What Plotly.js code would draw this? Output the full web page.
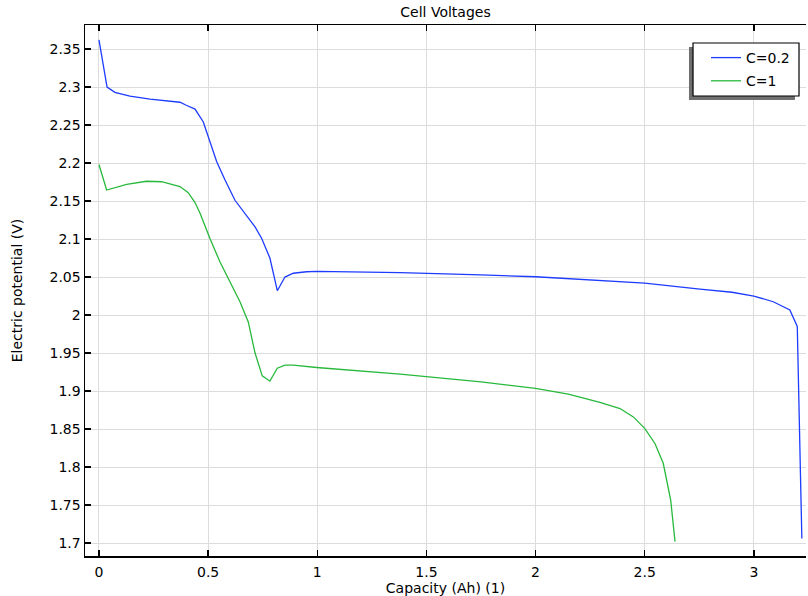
<!DOCTYPE html>
<html>
<head>
<meta charset="utf-8">
<script src="https://cdn.plot.ly/plotly-3.0.1.min.js"></script>
<style>html,body{margin:0;padding:0;background:#fff;}#chart{width:808px;height:596px;}</style>
</head>
<body>
<div id="chart"></div>
<script>
const blueX = [0, 0.037, 0.073, 0.142, 0.234, 0.371, 0.40, 0.44, 0.478, 0.50, 0.539, 0.577, 0.623, 0.715, 0.745, 0.783, 0.817, 0.852, 0.89, 0.951, 1.0, 1.38, 1.5, 1.75, 2.0, 2.15, 2.295, 2.5, 2.753, 2.9, 3.0, 3.089, 3.165, 3.199, 3.22];
const blueY = [2.362, 2.300, 2.293, 2.288, 2.284, 2.280, 2.276, 2.271, 2.254, 2.236, 2.202, 2.178, 2.151, 2.116, 2.101, 2.075, 2.032, 2.050, 2.055, 2.057, 2.0575, 2.0557, 2.0549, 2.0528, 2.0504, 2.048, 2.046, 2.042, 2.034, 2.030, 2.025, 2.0175, 2.0066, 1.985, 1.706];
const greenX = [0, 0.035, 0.127, 0.218, 0.287, 0.371, 0.409, 0.44, 0.463, 0.493, 0.508, 0.554, 0.646, 0.684, 0.715, 0.748, 0.783, 0.817, 0.852, 0.89, 0.997, 1.38, 1.5, 1.75, 2.0, 2.15, 2.295, 2.387, 2.448, 2.5, 2.547, 2.585, 2.619, 2.639];
const greenY = [2.198, 2.1645, 2.172, 2.176, 2.1754, 2.169, 2.161, 2.148, 2.134, 2.112, 2.101, 2.070, 2.0175, 1.991, 1.950, 1.920, 1.913, 1.930, 1.934, 1.934, 1.931, 1.9224, 1.919, 1.912, 1.9035, 1.896, 1.885, 1.877, 1.866, 1.851, 1.831, 1.805, 1.757, 1.702];
const seriesNames = ['C=0.2', 'C=1'];
const xTickVals = [0, 0.5, 1, 1.5, 2, 2.5, 3];
const xTickText = ['0', '0.5', '1', '1.5', '2', '2.5', '3'];
const yTickVals = [1.7, 1.75, 1.8, 1.85, 1.9, 1.95, 2, 2.05, 2.1, 2.15, 2.2, 2.25, 2.3, 2.35];
const yTickText = ['1.7', '1.75', '1.8', '1.85', '1.9', '1.95', '2', '2.05', '2.1', '2.15', '2.2', '2.25', '2.3', '2.35'];

const font = 'DejaVu Sans, sans-serif';
const fs = 14;
const traces = [
  {x: blueX, y: blueY, name: seriesNames[0], legendgroup: 'a', mode: 'lines', line: {color: 'rgb(30,60,255)', width: 1.3}},
  {x: greenX, y: greenY, name: seriesNames[1], legendgroup: 'b', mode: 'lines', line: {color: 'rgb(40,185,60)', width: 1.3}}
];
const layout = {
  width: 808, height: 596,
  margin: {l: 85, r: 2, t: 25, b: 40},
  paper_bgcolor: '#fff', plot_bgcolor: '#fff',
  font: {family: font, size: fs, color: '#000'},
  title: {text: 'Cell Voltages', font: {family: font, size: fs, color: '#000'}, x: 0.5, xref: 'paper', y: 1 - 12/596, yref: 'container', yanchor: 'middle'},
  showlegend: true,
  legend: {x: 0.8613, xanchor: 'left', y: 0.968, yanchor: 'top', bgcolor: 'rgba(0,0,0,0)', borderwidth: 0, tracegroupgap: 2, font: {family: font, size: fs, color: '#000'}},
  xaxis: {
    range: [-0.064, 3.239], tickvals: xTickVals, ticktext: xTickText,
    showgrid: true, gridcolor: '#dcdcdc', gridwidth: 1, zeroline: false,
    showline: true, linecolor: '#000', linewidth: 1.5, mirror: 'ticks',
    ticks: 'inside', ticklen: 6, tickcolor: '#000', tickwidth: 1.5, ticklabelstandoff: 3,
    tickfont: {family: font, size: fs, color: '#000'},
    title: {text: 'Capacity (Ah) (1)', font: {family: font, size: fs, color: '#000'}, standoff: 2}
  },
  yaxis: {
    range: [1.683, 2.3816], tickvals: yTickVals, ticktext: yTickText,
    showgrid: true, gridcolor: '#dcdcdc', gridwidth: 1, zeroline: false,
    showline: true, linecolor: '#000', linewidth: 1.5, mirror: false,
    ticks: 'inside', ticklen: 6, tickcolor: '#000', tickwidth: 1.5,
    tickfont: {family: font, size: fs, color: '#000'},
    title: {text: 'Electric potential (V)', font: {family: font, size: fs, color: '#000'}, standoff: 23}
  },
  shapes: [
    {type: 'rect', xref: 'paper', yref: 'paper', x0: 0.8377, x1: 0.9847, y0: 0.8588, y1: 0.9586, fillcolor: '#707070', line: {width: 0}, layer: 'above'},
    {type: 'rect', xref: 'paper', yref: 'paper', x0: 0.8433, x1: 0.9903, y0: 0.8663, y1: 0.9661, fillcolor: '#fff', line: {color: '#000', width: 1.2}, layer: 'above'}
  ]
};
Plotly.newPlot('chart', traces, layout, {displayModeBar: false, staticPlot: true});
</script>
</body>
</html>
